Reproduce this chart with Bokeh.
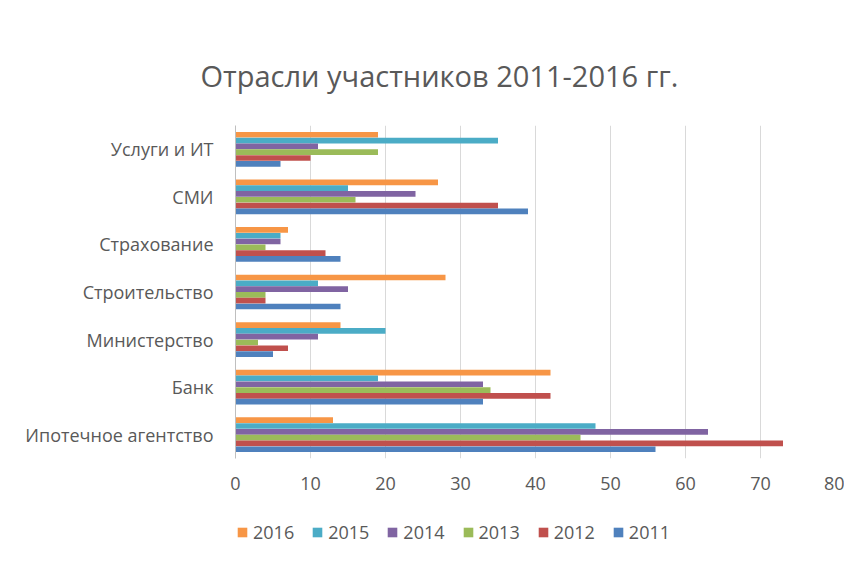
from bokeh.plotting import figure
from bokeh.models import ColumnDataSource, FactorRange, Legend, LegendItem, FixedTicker, Title
from bokeh.layouts import column
from bokeh.transform import dodge
from bokeh.embed import file_html
from bokeh.resources import INLINE

categories = ["Ипотечное агентство", "Банк", "Министерство", "Строительство",
              "Страхование", "СМИ", "Услуги и ИТ"]
years = ["2016", "2015", "2014", "2013", "2012", "2011"]
v2011 = [56, 33, 5, 14, 14, 39, 6]
v2012 = [73, 42, 7, 4, 12, 35, 10]
v2013 = [46, 34, 3, 4, 4, 16, 19]
v2014 = [63, 33, 11, 15, 6, 24, 11]
v2015 = [48, 19, 20, 11, 6, 15, 35]
v2016 = [13, 42, 14, 28, 7, 27, 19]
x_ticks = [0, 10, 20, 30, 40, 50, 60, 70, 80]

series = {"2016": v2016, "2015": v2015, "2014": v2014,
          "2013": v2013, "2012": v2012, "2011": v2011}
colors = {"2016": "#F79646", "2015": "#4BACC6", "2014": "#8064A2",
          "2013": "#9BBB59", "2012": "#C0504D", "2011": "#4F81BD"}

data = {"cat": categories}
data.update({y: series[y] for y in years})
source = ColumnDataSource(data)

FONT = "Open Sans"
TXT = "#595959"

p = figure(width=844, height=520, y_range=FactorRange(*categories), x_range=(0, 80),
           output_backend="svg", toolbar_location=None,
           min_border_left=235, min_border_right=9, min_border_top=125, min_border_bottom=62)
p.title = None
p.add_layout(Title(text="Отрасли участников 2011-2016 гг.", align="left", offset=-35,
                   text_font=FONT, text_font_size="29px", text_font_style="normal",
                   text_color=TXT, standoff=61), "above")

w = 0.122
for i, yr in enumerate(years):
    off = (2.5 - i) * w
    p.hbar(y=dodge("cat", off, range=p.y_range), right=yr, left=0, height=w * 0.98,
           source=source, fill_color=colors[yr], line_color=None)

p.xaxis.ticker = FixedTicker(ticks=x_ticks)
p.xaxis.major_label_text_font = FONT
p.xaxis.major_label_text_font_size = "18px"
p.xaxis.major_label_text_color = TXT
p.xaxis.major_label_standoff = 12
p.xaxis.axis_line_color = None
p.xaxis.major_tick_line_color = None
p.xaxis.minor_tick_line_color = None

p.yaxis.major_label_text_font = FONT
p.yaxis.major_label_text_font_size = "18px"
p.yaxis.major_label_text_color = TXT
p.yaxis.major_label_standoff = 16
p.yaxis.axis_line_color = "#bfbfbf"
p.yaxis.major_tick_line_color = None
p.yaxis.minor_tick_line_color = None

p.xgrid.grid_line_color = "#d9d9d9"
p.ygrid.grid_line_color = None
p.outline_line_color = None
p.background_fill_color = "white"
p.border_fill_color = "white"

# legend strip (swatches reuse the series values, drawn off-range)
lg = figure(width=844, height=38, x_range=(0, 1), y_range=(0, 1),
            output_backend="svg", toolbar_location=None, min_border=0,
            x_axis_location=None, y_axis_location=None)
lg.grid.visible = False
lg.outline_line_color = None
lg.border_fill_color = "white"
lg.background_fill_color = "white"
items = []
for yr in years:
    r = lg.quad(left=0, right=yr, bottom=-6, top=-5, source=source,
                fill_color=colors[yr], line_color=None)
    items.append(LegendItem(label=yr, renderers=[r]))
legend = Legend(items=items, orientation="horizontal", location=(1, 14),
                label_text_font=FONT, label_text_font_size="18px", label_text_color=TXT,
                glyph_width=12, glyph_height=12, spacing=17, label_standoff=5,
                border_line_color=None, background_fill_alpha=0, margin=0, padding=0)
lg.add_layout(legend)

layout = column(p, lg, spacing=0)
open("out.html", "w").write(file_html(layout, INLINE))
